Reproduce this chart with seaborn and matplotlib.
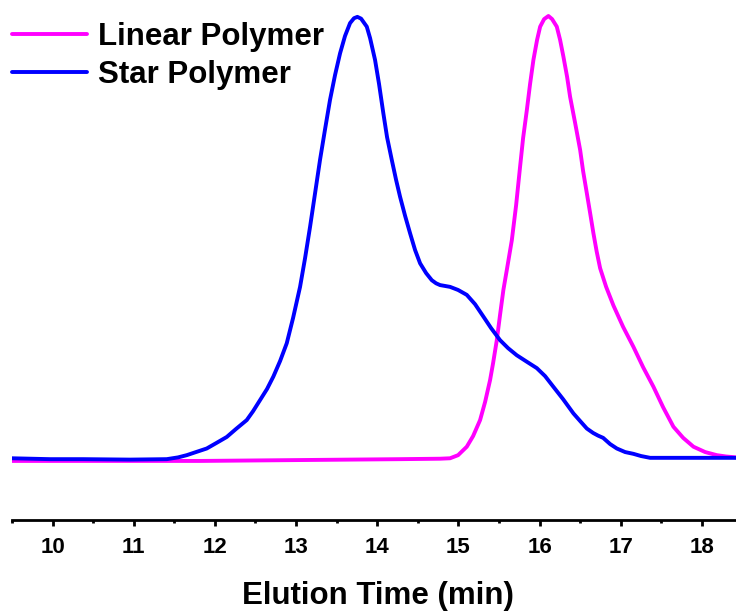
import numpy as np
import pandas as pd
import seaborn as sns
import matplotlib
matplotlib.use("Agg")
import matplotlib.pyplot as plt
from matplotlib.ticker import MultipleLocator

# Star polymer trace (elution time in min, normalized intensity)
star_time = [9.500, 9.968, 10.375, 10.954, 11.406, 11.546, 11.653, 11.767, 11.899, 12.014,
             12.146, 12.260, 12.392, 12.470, 12.556, 12.642, 12.720, 12.803, 12.885, 12.963,
             13.049, 13.111, 13.172, 13.234, 13.295, 13.357, 13.418, 13.480, 13.542, 13.603,
             13.665, 13.714, 13.755, 13.801, 13.871, 13.912, 13.973, 14.022, 14.075, 14.121,
             14.179, 14.232, 14.281, 14.343, 14.404, 14.466, 14.528, 14.602, 14.672, 14.725,
             14.774, 14.836, 14.897, 14.996, 15.103, 15.205, 15.308, 15.403, 15.513, 15.612,
             15.719, 15.846, 15.966, 16.068, 16.170, 16.290, 16.417, 16.499, 16.582, 16.660,
             16.721, 16.783, 16.869, 16.952, 17.054, 17.156, 17.251, 17.362, 17.978, 18.420]
star_signal = [0.004, 0.002, 0.002, 0.001, 0.002, 0.006, 0.011, 0.018, 0.026, 0.038,
               0.052, 0.070, 0.090, 0.110, 0.135, 0.160, 0.188, 0.223, 0.263, 0.320,
               0.390, 0.455, 0.525, 0.601, 0.676, 0.745, 0.811, 0.867, 0.916, 0.955,
               0.984, 0.995, 0.998, 0.994, 0.976, 0.950, 0.901, 0.847, 0.781, 0.727,
               0.676, 0.631, 0.593, 0.550, 0.511, 0.473, 0.443, 0.421, 0.405, 0.398,
               0.394, 0.392, 0.390, 0.383, 0.372, 0.351, 0.323, 0.297, 0.270, 0.252,
               0.236, 0.221, 0.207, 0.189, 0.165, 0.137, 0.105, 0.088, 0.071, 0.061,
               0.055, 0.050, 0.036, 0.026, 0.018, 0.014, 0.009, 0.005, 0.005, 0.005]

# Linear polymer trace
linear_time = [9.500, 11.817, 14.281, 14.774, 14.897, 14.996, 15.103, 15.181, 15.267, 15.329,
               15.390, 15.427, 15.473, 15.513, 15.554, 15.600, 15.658, 15.711, 15.760, 15.797,
               15.843, 15.883, 15.924, 15.969, 16.007, 16.056, 16.109, 16.154, 16.212, 16.253,
               16.294, 16.339, 16.376, 16.438, 16.500, 16.536, 16.582, 16.623, 16.663, 16.703,
               16.746, 16.820, 16.910, 17.029, 17.156, 17.276, 17.403, 17.522, 17.649, 17.769,
               17.896, 18.040, 18.184, 18.298, 18.420]
linear_signal = [-0.002, -0.002, 0.002, 0.003, 0.004, 0.011, 0.030, 0.054, 0.090, 0.131,
                 0.180, 0.218, 0.270, 0.327, 0.383, 0.432, 0.495, 0.574, 0.661, 0.725,
                 0.788, 0.847, 0.901, 0.946, 0.976, 0.993, 1.000, 0.993, 0.976, 0.946,
                 0.908, 0.863, 0.818, 0.759, 0.698, 0.651, 0.601, 0.556, 0.511, 0.470,
                 0.432, 0.390, 0.348, 0.300, 0.255, 0.209, 0.165, 0.119, 0.075, 0.050,
                 0.030, 0.018, 0.011, 0.008, 0.006]

series_names = ["Linear Polymer", "Star Polymer"]
series_colors = ["#FF00FF", "#0000FF"]
x_ticks = [10, 11, 12, 13, 14, 15, 16, 17, 18]
x_label = "Elution Time (min)"

df = pd.concat([
    pd.DataFrame({"time": linear_time, "signal": linear_signal, "series": series_names[0]}),
    pd.DataFrame({"time": star_time, "signal": star_signal, "series": series_names[1]}),
], ignore_index=True)

sns.set_style("white")
plt.rcParams["font.family"] = ["Liberation Sans", "DejaVu Sans"]
plt.rcParams["font.weight"] = "bold"
plt.rcParams["text.color"] = "black"
plt.rcParams["axes.labelcolor"] = "black"
plt.rcParams["xtick.color"] = "black"

fig = plt.figure(figsize=(7.36, 6.12), dpi=100)
ax = fig.add_axes([12 / 736, 92 / 612, 1 - 12 / 736, 1 - 92 / 612])

sns.lineplot(data=df, x="time", y="signal", hue="series", hue_order=series_names,
             palette=series_colors, estimator=None, sort=False, linewidth=2.8, ax=ax)

ax.set_xlim(9.5, 18.42)
ax.set_ylim(-0.135, 1.036)
ax.set_xticks(x_ticks)
ax.set_xticklabels([str(t) for t in x_ticks], fontsize=16, fontweight="bold", color="black")
ax.xaxis.set_minor_locator(MultipleLocator(0.5))
ax.tick_params(axis="x", which="major", direction="out", length=4.5, width=2, pad=8,
               bottom=True, color="black")
ax.tick_params(axis="x", which="minor", direction="out", length=2.5, width=2, bottom=True,
               color="black")
ax.set_yticks([])
ax.set_ylabel("")
ax.set_xlabel(x_label, fontsize=22.5, fontweight="bold", color="black")
ax.xaxis.set_label_coords(0.505, -0.117)

for side in ["top", "right", "left"]:
    ax.spines[side].set_visible(False)
ax.spines["bottom"].set_linewidth(2)
ax.spines["bottom"].set_color("black")

leg = ax.legend(loc="upper left", bbox_to_anchor=(0.0, 0.958), frameon=False,
                fontsize=22.5, handlelength=2.4, handletextpad=0.35,
                borderpad=0, borderaxespad=0, labelspacing=0.25)
for t in leg.get_texts():
    t.set_fontweight("bold")
    t.set_color("black")
for line in leg.get_lines():
    line.set_linewidth(2.8)

fig.savefig("out.png", dpi=100)
